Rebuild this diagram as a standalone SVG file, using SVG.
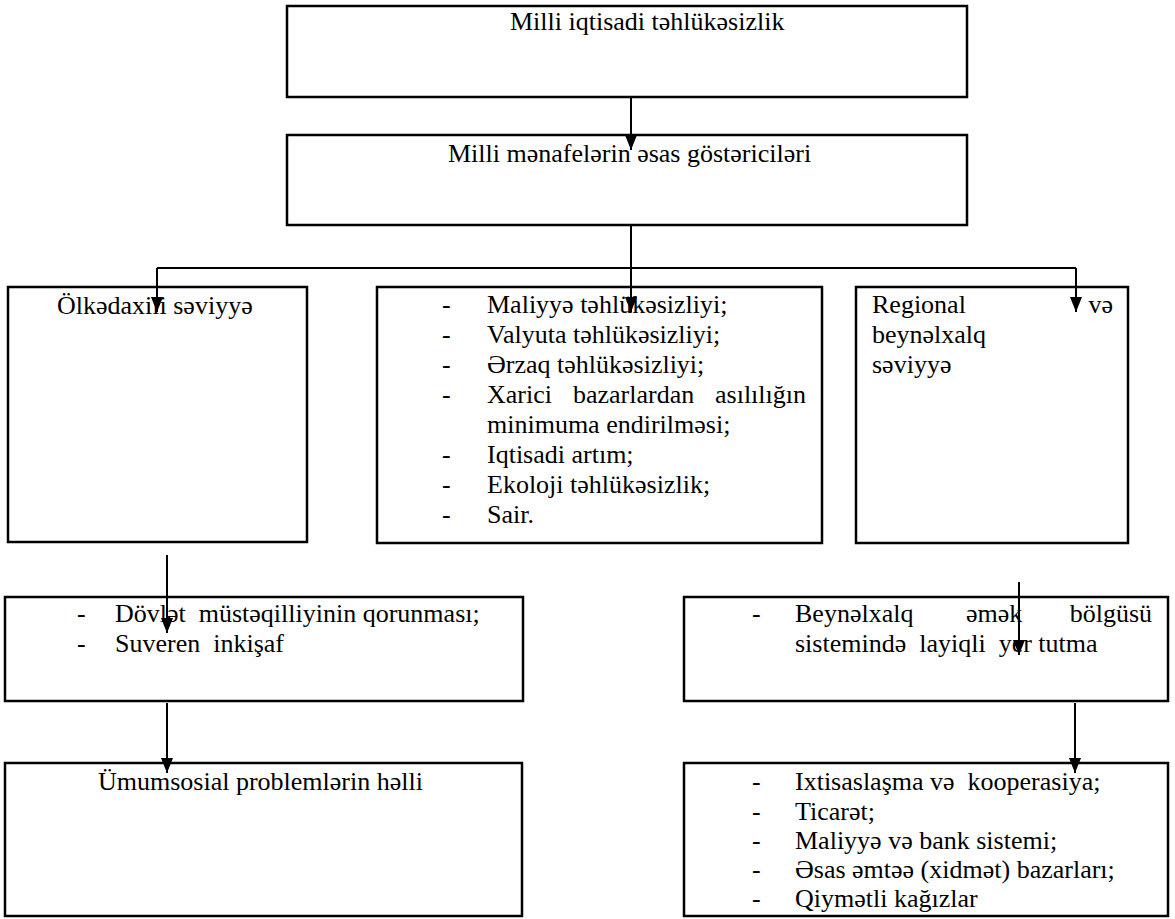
<svg xmlns="http://www.w3.org/2000/svg" width="1175" height="919" viewBox="0 0 1175 919">
<style>
.b{fill:#fff;stroke:#000;stroke-width:2.5}
.t{font-family:"Liberation Serif","Times New Roman","DejaVu Serif",serif;font-size:26px;fill:#000}
.c{text-anchor:middle}
.e{text-anchor:end}
.ln{stroke:#000;stroke-width:2;fill:none}
</style>
<defs>
<marker id="ah" markerUnits="userSpaceOnUse" markerWidth="16" markerHeight="12" refX="15" refY="6" orient="auto" viewBox="0 0 16 12">
<path d="M0,0 L15,6 L0,12 Z" fill="#000"/>
</marker>
</defs>
<rect x="0" y="0" width="1175" height="919" fill="#fff"/>
<g class="t">
<g id="n1"><rect class="b" x="287" y="6" width="680" height="91"/><text x="510" y="30">Milli iqtisadi təhlükəsizlik</text></g>
<g id="n2"><rect class="b" x="287" y="135" width="680" height="90"/><text x="448" y="162">Milli mənafelərin əsas göstəriciləri</text></g>
<g id="n3"><rect class="b" x="8" y="287" width="299" height="255"/><text x="57" y="314">Ölkədaxili səviyyə</text></g>
<g id="n4"><rect class="b" x="377" y="287" width="445" height="256"/>
<text x="442" y="313">-</text><text x="487" y="313">Maliyyə təhlükəsizliyi;</text>
<text x="442" y="343">-</text><text x="487" y="343">Valyuta təhlükəsizliyi;</text>
<text x="442" y="373">-</text><text x="487" y="373">Ərzaq təhlükəsizliyi;</text>
<text x="442" y="403">-</text><text x="487" y="403">Xarici</text><text x="573" y="403">bazarlardan</text><text x="806" y="403" class="e">asılılığın</text>
<text x="487" y="433">minimuma endirilməsi;</text>
<text x="442" y="463">-</text><text x="487" y="463">Iqtisadi artım;</text>
<text x="442" y="493">-</text><text x="487" y="493">Ekoloji təhlükəsizlik;</text>
<text x="442" y="523">-</text><text x="487" y="523">Sair.</text>
</g>
<g id="n5"><rect class="b" x="856" y="287" width="272" height="256"/>
<text x="872" y="313">Regional</text><text x="1113" y="313" class="e">və</text>
<text x="872" y="343">beynəlxalq</text>
<text x="872" y="373">səviyyə</text>
</g>
<g id="n6"><rect class="b" x="5" y="597" width="518" height="104"/>
<text x="77" y="622">-</text><text x="115" y="622" xml:space="preserve">Dövlət  müstəqilliyinin qorunması;</text>
<text x="77" y="652">-</text><text x="115" y="652" xml:space="preserve">Suveren  inkişaf</text>
</g>
<g id="n7"><rect class="b" x="5" y="763" width="517" height="153"/><text x="98" y="790">Ümumsosial problemlərin həlli</text></g>
<g id="n8"><rect class="b" x="684" y="597" width="484" height="104"/>
<text x="752" y="622">-</text><text x="795" y="622">Beynəlxalq</text><text x="966" y="622">əmək</text><text x="1152" y="622" class="e">bölgüsü</text>
<text x="795" y="652" xml:space="preserve">sistemində  layiqli  yer tutma</text>
</g>
<g id="n9"><rect class="b" x="684" y="763" width="484" height="153"/>
<text x="752" y="790">-</text><text x="795" y="790" xml:space="preserve">Ixtisaslaşma və  kooperasiya;</text>
<text x="752" y="820">-</text><text x="795" y="820">Ticarət;</text>
<text x="752" y="849">-</text><text x="795" y="849">Maliyyə və bank sistemi;</text>
<text x="752" y="878">-</text><text x="795" y="878">Əsas əmtəə (xidmət) bazarları;</text>
<text x="752" y="907">-</text><text x="795" y="907">Qiymətli kağızlar</text>
</g>
</g>
<g id="connectors">
<line class="ln" x1="631" y1="97" x2="631" y2="150" marker-end="url(#ah)"/>
<path class="ln" d="M631,225 V268"/>
<path class="ln" d="M157,268 H1076"/>
<line class="ln" x1="157" y1="268" x2="157" y2="312" marker-end="url(#ah)"/>
<line class="ln" x1="631" y1="268" x2="631" y2="312" marker-end="url(#ah)"/>
<line class="ln" x1="1076" y1="268" x2="1076" y2="312" marker-end="url(#ah)"/>
<line class="ln" x1="167" y1="555" x2="167" y2="633" marker-end="url(#ah)"/>
<line class="ln" x1="167" y1="703" x2="167" y2="773" marker-end="url(#ah)"/>
<line class="ln" x1="1019" y1="582" x2="1019" y2="655" marker-end="url(#ah)"/>
<line class="ln" x1="1075" y1="703" x2="1075" y2="773" marker-end="url(#ah)"/>
</g>
</svg>
